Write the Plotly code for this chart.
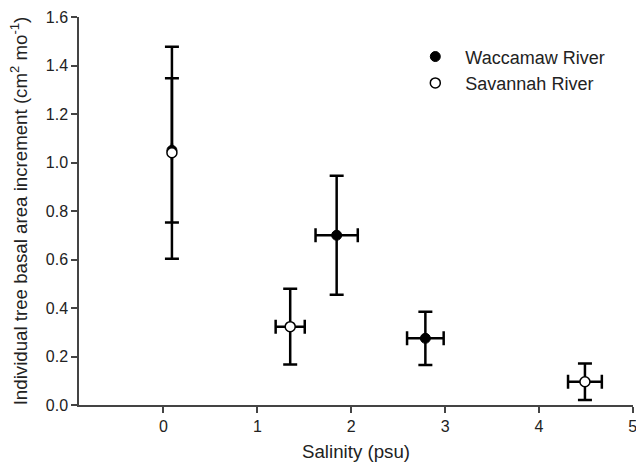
import plotly.graph_objects as go

# Waccamaw River (filled)
wac_x = [0.09, 1.845, 2.79]
wac_y = [1.05, 0.70, 0.275]
wac_xerr = [None, 0.225, 0.195]
wac_yerr = [0.297, 0.245, 0.11]

# Savannah River (open)
sav_x = [0.09, 1.35, 4.49]
sav_y = [1.04, 0.323, 0.096]
sav_xerr = [None, 0.155, 0.18]
sav_yerr = [0.437, 0.156, 0.075]

x_ticks = [0, 1, 2, 3, 4, 5]
y_ticks = [0.0, 0.2, 0.4, 0.6, 0.8, 1.0, 1.2, 1.4, 1.6]

FONT = "Liberation Sans, Arial, sans-serif"
err_style = dict(type="data", color="black", thickness=2.5, width=7, visible=True)

fig = go.Figure()
fig.add_trace(go.Scatter(
    x=wac_x, y=wac_y, mode="markers", name="Waccamaw River",
    marker=dict(size=10, color="black", line=dict(color="black", width=1)),
    error_x=dict(array=wac_xerr, **err_style),
    error_y=dict(array=wac_yerr, **err_style),
))
fig.add_trace(go.Scatter(
    x=sav_x, y=sav_y, mode="markers", name="Savannah River",
    marker=dict(size=10, color="white", line=dict(color="black", width=1.5)),
    error_x=dict(array=sav_xerr, **err_style),
    error_y=dict(array=sav_yerr, **err_style),
))

fig.update_layout(
    width=636, height=465,
    margin=dict(l=79, r=3, t=17, b=60),
    paper_bgcolor="white", plot_bgcolor="white",
    font=dict(family=FONT, size=16, color="#222"),
    showlegend=True,
    legend=dict(x=0.589, y=0.945, xanchor="left", yanchor="top",
                bgcolor="rgba(0,0,0,0)", font=dict(size=18, color="#222"),
                itemwidth=50, tracegroupgap=0),
    xaxis=dict(
        range=[-0.9, 5.002], tickvals=x_ticks, ticktext=[str(v) for v in x_ticks],
        showgrid=False, zeroline=False, showline=True, linecolor="#444", linewidth=1.5,
        ticks="outside", ticklen=6, tickcolor="#444", tickwidth=1.5,
        tickfont=dict(size=16), ticklabeloverflow="allow", automargin=False,
        title=dict(text="Salinity (psu)", font=dict(size=18.7), standoff=11),
    ),
    yaxis=dict(
        range=[0, 1.6], tickvals=y_ticks, ticktext=[f"{v:.1f}" for v in y_ticks],
        showgrid=False, zeroline=False, showline=True, linecolor="#444", linewidth=1.5,
        ticks="outside", ticklen=6, tickcolor="#444", tickwidth=1.5,
        tickfont=dict(size=16),
        title=dict(text="Individual tree basal area increment (cm<sup>2</sup> mo<sup>-1</sup>)",
                   font=dict(size=18.7), standoff=13),
    ),
)

fig.write_html("out.html")
